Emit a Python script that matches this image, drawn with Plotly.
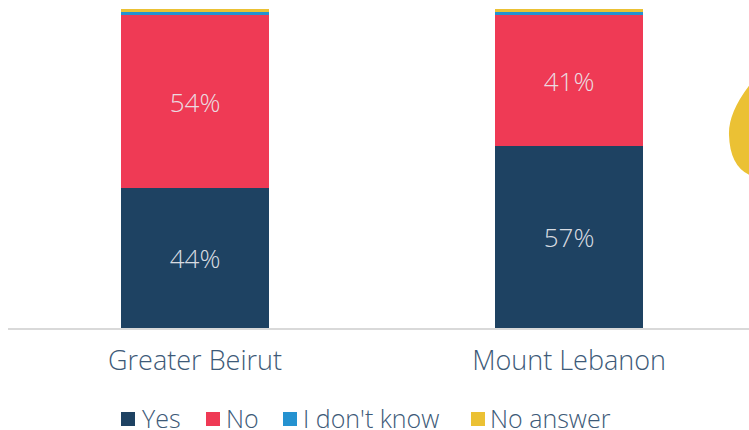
import plotly.graph_objects as go

regions = ["Greater Beirut", "Mount Lebanon"]
yes = [44, 57]
no = [54, 41]
dont_know = [1, 1]
no_answer = [1, 1]

series = [
    ("Yes", yes, "#1e4262", True),
    ("No", no, "#ef3a55", True),
    ("I don't know", dont_know, "#2592d0", False),
    ("No answer", no_answer, "#ebc134", False),
]

W, H = 749, 430
L, R, T, B = 8, 0, 9, 102
pw, ph = W - L - R, H - T - B
TEXT = "#3d5a78"
FONT = "Open Sans"

fig = go.Figure()
for name, vals, color, labelled in series:
    fig.add_trace(go.Bar(
        x=regions, y=vals, name=name,
        marker=dict(color=color, line=dict(width=0)),
        width=0.396,
        text=[f"{v}%" for v in vals] if labelled else None,
        textposition="inside" if labelled else "none",
        insidetextanchor="middle",
        textfont=dict(color="rgba(235,235,240,0.92)", size=26, family=FONT, weight=300),
        hoverinfo="skip",
        showlegend=False,
    ))

def paper(x, y):
    return (x - L) / pw, (H - B - y) / ph

# decorative yellow drop at the right edge
p0 = paper(752, 82)
c1 = paper(728, 112)
p1 = paper(729, 135)
c2 = paper(730, 168)
p2 = paper(752, 176)
path = (f"M {p0[0]},{p0[1]} Q {c1[0]},{c1[1]} {p1[0]},{p1[1]} "
        f"Q {c2[0]},{c2[1]} {p2[0]},{p2[1]} Z")
shapes = [dict(type="path", xref="paper", yref="paper", path=path,
               fillcolor="#ebc134", line=dict(width=0), layer="above")]

# legend row along the bottom: swatch and label left edges in pixels
swatch_x = [121, 206, 283, 471]
label_x = [140, 224, 301, 488]
legend_y = 419
sw = 14
annotations = []
for (name, _, color, _), sx, lx in zip(series, swatch_x, label_x):
    x0, y0 = paper(sx, legend_y + sw / 2)
    x1, y1 = paper(sx + sw, legend_y - sw / 2)
    shapes.append(dict(type="rect", xref="paper", yref="paper", x0=x0, x1=x1,
                       y0=y0, y1=y1, fillcolor=color, line=dict(width=0)))
    tx, ty = paper(lx, legend_y - 1)
    annotations.append(dict(text=name, xref="paper", yref="paper", x=tx, y=ty,
                            xanchor="left", yanchor="middle", showarrow=False,
                            font=dict(size=25, color=TEXT, family=FONT, weight=300)))

fig.update_layout(
    width=W, height=H,
    margin=dict(l=L, r=R, t=T, b=B),
    barmode="stack",
    plot_bgcolor="white", paper_bgcolor="white",
    font=dict(family=FONT, color=TEXT, weight=300),
    showlegend=False,
    xaxis=dict(range=[-0.5, 1.481], showline=True, linecolor="#d9d9d9", linewidth=2,
               ticks="", tickfont=dict(size=27, color=TEXT, family=FONT, weight=300),
               ticklabelstandoff=8, showgrid=False, fixedrange=True),
    yaxis=dict(range=[0, 100], visible=False, showgrid=False, fixedrange=True),
    shapes=shapes,
    annotations=annotations,
)

fig.write_html("out.html")
